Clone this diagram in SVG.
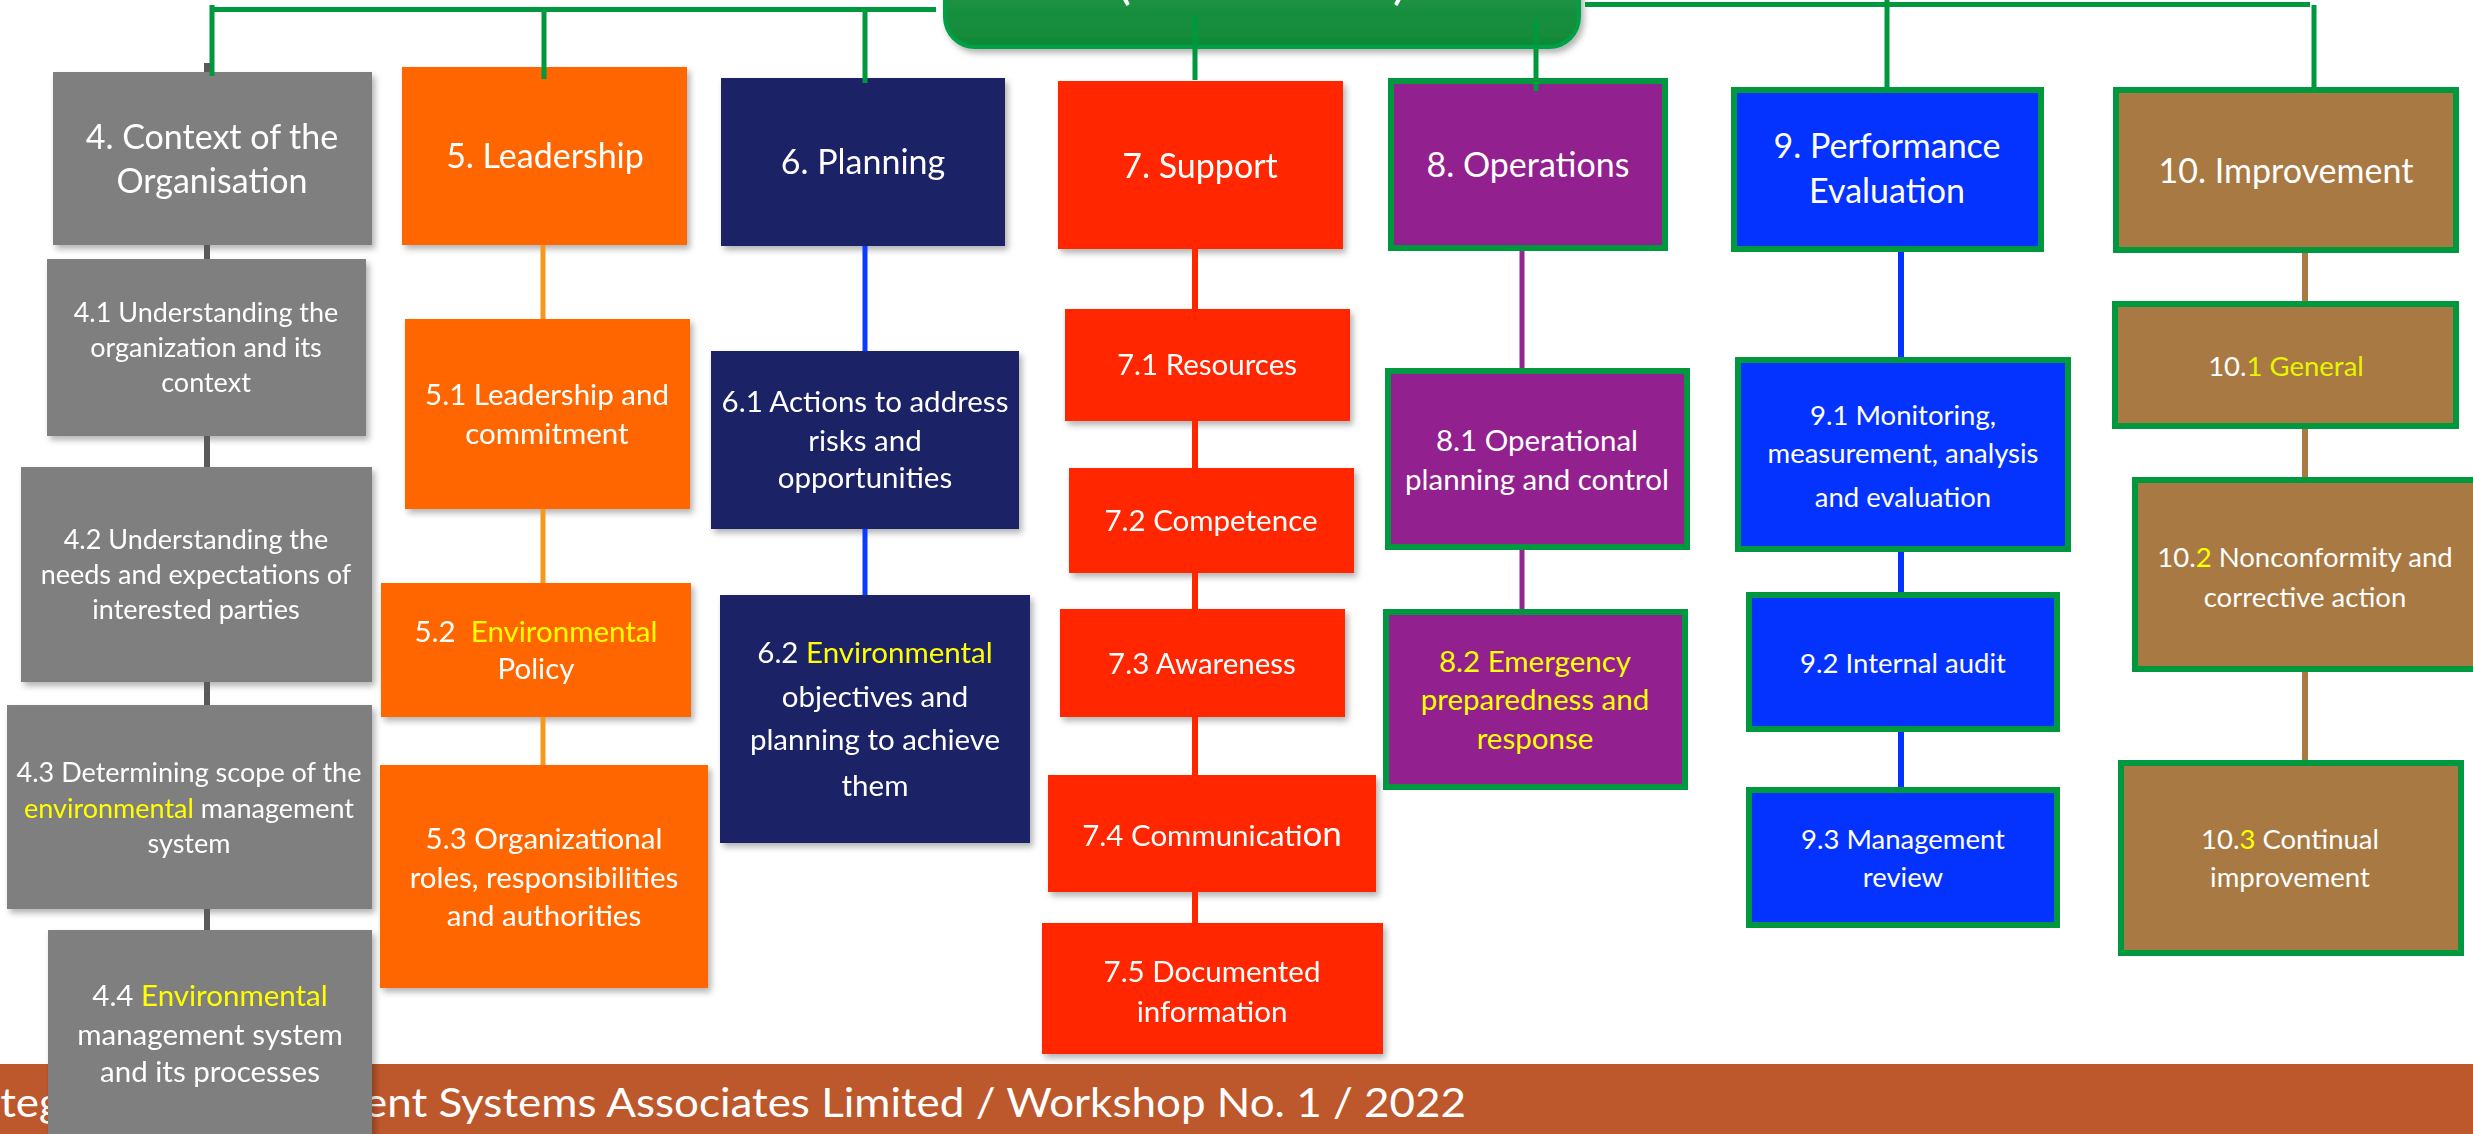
<svg xmlns="http://www.w3.org/2000/svg" width="2473" height="1134" viewBox="0 0 2473 1134">
<defs>
<linearGradient id="gMain" x1="0" y1="0" x2="0" y2="1">
<stop offset="0" stop-color="#34a052"/>
<stop offset="1" stop-color="#0f8a38"/>
</linearGradient>
<filter id="sh" x="-10%" y="-10%" width="125%" height="130%">
<feDropShadow dx="3" dy="4" stdDeviation="3" flood-color="#000" flood-opacity="0.3"/>
</filter>
</defs>
<style>
text{font-family:Lato,"Liberation Sans",sans-serif;fill:#fff;text-anchor:middle;}
.h{font-size:34px;}
.g{font-size:27px;}
.s{font-size:29.5px;}
.b{font-size:27.5px;}
.y{fill:#ffff00;}
.yg{fill:#e6f500;}
.gray{fill:#7f7f7f;}
.org{fill:#ff6600;}
.navy{fill:#1b2066;}
.red{fill:#ff2600;}
.pur{fill:#92208f;}
.blu{fill:#0433ff;}
.brn{fill:#a87942;}
.gb{stroke:#00983f;stroke-width:6;}
.c{fill:none;stroke-linecap:butt;}
.cg{stroke:#00983f;stroke-width:5;}
.cgr{stroke:#5a5a5a;stroke-width:6;}
.co{stroke:#f39a1e;stroke-width:5;}
.cn{stroke:#0a3cff;stroke-width:5;}
.cr{stroke:#ff2600;stroke-width:6;}
.cp{stroke:#92278f;stroke-width:5;}
.cb{stroke:#0433ff;stroke-width:6;}
.cbr{stroke:#a87942;stroke-width:6;}
</style>
<rect width="2473" height="1134" fill="#fff"/>
<g id="banner">
<rect x="0" y="1064" width="2473" height="70" fill="#bd582c"/>
<text x="-36" y="1117" style="font-size:41px;text-anchor:start" textLength="1502" lengthAdjust="spacingAndGlyphs">Integrated Management Systems Associates Limited / Workshop No. 1 / 2022</text>
</g>
<g id="main">
<rect x="945" y="-90" width="634" height="137" rx="30" fill="url(#gMain)" stroke="#00a046" stroke-width="4" filter="url(#sh)"/>
<text x="1124" y="-2" style="font-size:54px">(</text>
<text x="1400" y="-2" style="font-size:54px">)</text>
</g>
<g id="n4" filter="url(#sh)"><rect class="gray" x="53" y="72" width="319" height="173"/>
<text class="h" x="212" y="149">4. Context of the</text><text class="h" x="212" y="193">Organisation</text></g>
<g id="n41" filter="url(#sh)"><rect class="gray" x="47" y="259" width="319" height="177"/>
<text class="g" x="206" y="322">4.1 Understanding the</text><text class="g" x="206" y="357">organization and its</text><text class="g" x="206" y="392">context</text></g>
<g id="n42" filter="url(#sh)"><rect class="gray" x="21" y="467" width="351" height="215"/>
<text class="g" x="196" y="549">4.2 Understanding the</text><text class="g" x="196" y="584">needs and expectations of</text><text class="g" x="196" y="619">interested parties</text></g>
<g id="n43" filter="url(#sh)"><rect class="gray" x="7" y="705" width="365" height="204"/>
<text class="g" x="189" y="782">4.3 Determining scope of the</text><text class="g" x="189" y="818"><tspan class="y">environmental</tspan> management</text><text class="g" x="189" y="853">system</text></g>
<g id="n44" filter="url(#sh)"><rect class="gray" x="48" y="930" width="324" height="214"/>
<text class="s" x="210" y="1006">4.4 <tspan class="y">Environmental</tspan></text><text class="s" x="210" y="1045">management system</text><text class="s" x="210" y="1082">and its processes</text></g>

<g id="n5" filter="url(#sh)"><rect class="org" x="402" y="67" width="285" height="178"/>
<text class="h" x="545" y="168">5. Leadership</text></g>
<g id="n51" filter="url(#sh)"><rect class="org" x="405" y="319" width="285" height="190"/>
<text class="s" x="547" y="405">5.1 Leadership and</text><text class="s" x="547" y="444">commitment</text></g>
<g id="n52" filter="url(#sh)"><rect class="org" x="381" y="583" width="310" height="134"/>
<text class="s" x="536" y="642" style="white-space:pre">5.2  <tspan class="y">Environmental</tspan></text><text class="s" x="536" y="679">Policy</text></g>
<g id="n53" filter="url(#sh)"><rect class="org" x="380" y="765" width="328" height="223"/>
<text class="s" x="544" y="849">5.3 Organizational</text><text class="s" x="544" y="888">roles, responsibilities</text><text class="s" x="544" y="926">and authorities</text></g>

<g id="n6" filter="url(#sh)"><rect class="navy" x="721" y="78" width="284" height="168"/>
<text class="h" x="863" y="174">6. Planning</text></g>
<g id="n61" filter="url(#sh)"><rect class="navy" x="711" y="351" width="308" height="178"/>
<text class="s" x="865" y="412">6.1 Actions to address</text><text class="s" x="865" y="451">risks and</text><text class="s" x="865" y="488">opportunities</text></g>
<g id="n62" filter="url(#sh)"><rect class="navy" x="720" y="595" width="310" height="248"/>
<text class="s" x="875" y="663">6.2 <tspan class="y">Environmental</tspan></text><text class="s" x="875" y="707">objectives and</text><text class="s" x="875" y="750">planning to achieve</text><text class="s" x="875" y="796">them</text></g>

<g id="n7" filter="url(#sh)"><rect class="red" x="1058" y="81" width="285" height="168"/>
<text class="h" x="1200" y="178">7. Support</text></g>
<g id="n71" filter="url(#sh)"><rect class="red" x="1065" y="309" width="285" height="112"/>
<text class="s" x="1207" y="375">7.1 Resources</text></g>
<g id="n72" filter="url(#sh)"><rect class="red" x="1069" y="468" width="285" height="105"/>
<text class="s" x="1211" y="531">7.2 Competence</text></g>
<g id="n73" filter="url(#sh)"><rect class="red" x="1060" y="609" width="285" height="108"/>
<text class="s" x="1202" y="674">7.3 Awareness</text></g>
<g id="n74" filter="url(#sh)"><rect class="red" x="1048" y="775" width="328" height="117"/>
<text class="s" x="1212" y="846">7.4 Communicati<tspan style="font-size:35px">on</tspan></text></g>
<g id="n75" filter="url(#sh)"><rect class="red" x="1042" y="923" width="341" height="131"/>
<text class="s" x="1212" y="982">7.5 Documented</text><text class="s" x="1212" y="1022">information</text></g>

<g id="n8"><rect class="pur gb" x="1391" y="81" width="274" height="167"/>
<text class="h" x="1528" y="177">8. Operations</text></g>
<g id="n81"><rect class="pur gb" x="1388" y="371" width="299" height="176"/>
<text class="s" x="1537" y="451">8.1 Operational</text><text class="s" x="1537" y="490">planning and control</text></g>
<g id="n82"><rect class="pur gb" x="1386" y="612" width="299" height="175"/>
<text class="s y" x="1535" y="672">8.2 Emergency</text><text class="s y" x="1535" y="710">preparedness and</text><text class="s y" x="1535" y="749">response</text></g>

<g id="n9"><rect class="blu gb" x="1734" y="90" width="307" height="159"/>
<text class="h" x="1887" y="158">9. Performance</text><text class="h" x="1887" y="203">Evaluation</text></g>
<g id="n91"><rect class="blu gb" x="1738" y="360" width="330" height="189"/>
<text class="b" x="1903" y="425">9.1 Monitoring,</text><text class="b" x="1903" y="463">measurement, analysis</text><text class="b" x="1903" y="507">and evaluation</text></g>
<g id="n92"><rect class="blu gb" x="1749" y="595" width="308" height="134"/>
<text class="b" x="1903" y="673">9.2 Internal audit</text></g>
<g id="n93"><rect class="blu gb" x="1749" y="790" width="308" height="135"/>
<text class="b" x="1903" y="849">9.3 Management</text><text class="b" x="1903" y="887">review</text></g>

<g id="n10"><rect class="brn gb" x="2116" y="90" width="340" height="160"/>
<text class="h" x="2286" y="183">10. Improvement</text></g>
<g id="n101"><rect class="brn gb" x="2115" y="304" width="341" height="122"/>
<text class="b" x="2286" y="376">10.<tspan class="yg">1 General</tspan></text></g>
<g id="n102"><rect class="brn gb" x="2135" y="480" width="345" height="189"/>
<text class="b" x="2305" y="567">10.<tspan class="y">2</tspan> Nonconformity and</text><text class="b" x="2305" y="607">corrective action</text></g>
<g id="n103"><rect class="brn gb" x="2121" y="763" width="340" height="190"/>
<text class="b" x="2290" y="849">10.<tspan class="y">3</tspan> Continual</text><text class="b" x="2290" y="887">improvement</text></g>

<g id="connectors">
<path class="c cg" d="M210,9.5 H936 M212,5 V76 M544,9.5 V79 M865,9.5 V83 M1585,4.5 H2310 M1887,0 V87 M2314,5 V92 M1195,16 V80 M1536,20 V91"/>
<path class="c cgr" d="M207,63 V72 M207,245 V259 M207,436 V467 M207,682 V705 M207,909 V930"/>
<path class="c co" d="M543,245 V319 M543,509 V583 M543,717 V765"/>
<path class="c cn" d="M865,246 V351 M865,529 V595"/>
<path class="c cr" d="M1195,249 V309 M1195,421 V468 M1195,573 V609 M1195,717 V775 M1195,892 V923"/>
<path class="c cp" d="M1522,251 V368 M1522,550 V609"/>
<path class="c cb" d="M1901,252 V357 M1901,552 V592 M1901,732 V787"/>
<path class="c cbr" d="M2305,253 V301 M2305,429 V477 M2305,672 V760"/>
</g>
</svg>
